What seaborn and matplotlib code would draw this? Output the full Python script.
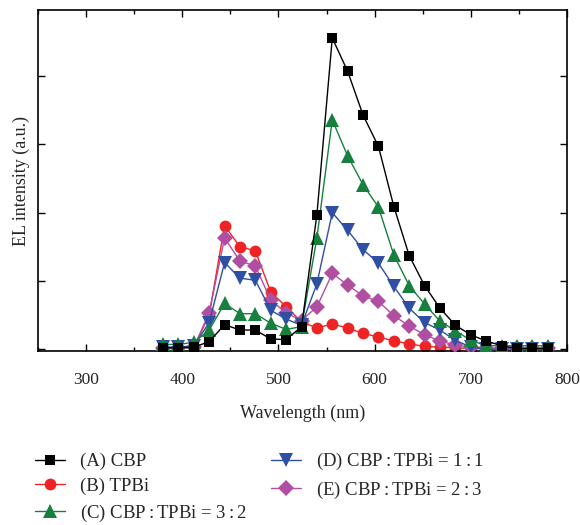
import numpy as np
import pandas as pd
import matplotlib
matplotlib.use("Agg")
import matplotlib.pyplot as plt
from matplotlib.ticker import MultipleLocator, NullFormatter
import seaborn as sns

# Datos (intensidad en unidades arbitrarias)
wavelength = [380, 396, 412, 428, 444, 460, 476, 492, 508, 524, 540, 556, 572,
              588, 604, 620, 636, 652, 668, 684, 700, 716, 732, 748, 764, 780]

cbp = [0.02, 0.02, 0.03, 0.11, 0.36, 0.28, 0.28, 0.15, 0.14, 0.33, 1.97, 4.56, 4.07,
       3.43, 2.97, 2.09, 1.37, 0.93, 0.60, 0.35, 0.21, 0.12, 0.05, 0.01, 0.01, 0.01]
tpbi = [0.01, 0.01, 0.03, 0.50, 1.81, 1.50, 1.44, 0.84, 0.62, 0.40, 0.31, 0.37, 0.31,
        0.23, 0.18, 0.12, 0.08, 0.04, 0.03, 0.02, 0.01, 0.01, 0.01, 0.01, 0.01, 0.01]
cbp_tpbi_32 = [0.07, 0.07, 0.10, 0.28, 0.67, 0.52, 0.52, 0.38, 0.29, 0.33, 1.63, 3.36, 2.83,
               2.41, 2.08, 1.38, 0.93, 0.66, 0.41, 0.27, 0.13, 0.05, 0.05, 0.05, 0.05, 0.05]
cbp_tpbi_11 = [0.03, 0.03, 0.05, 0.39, 1.27, 1.04, 1.01, 0.57, 0.44, 0.35, 0.96, 2.00, 1.74,
               1.46, 1.26, 0.92, 0.60, 0.39, 0.28, 0.13, 0.03, 0.00, 0.00, 0.00, 0.00, 0.00]
cbp_tpbi_23 = [0.02, 0.02, 0.03, 0.53, 1.63, 1.29, 1.22, 0.72, 0.53, 0.42, 0.62, 1.11, 0.94,
               0.78, 0.70, 0.49, 0.34, 0.21, 0.12, 0.06, 0.03, 0.01, 0.01, 0.01, 0.01, 0.01]

labels = ["(A) CBP", "(B) TPBi", "(C) CBP$\\,$:$\\,$TPBi = 3$\\,$:$\\,$2",
          "(D) CBP$\\,$:$\\,$TPBi = 1$\\,$:$\\,$1", "(E) CBP$\\,$:$\\,$TPBi = 2$\\,$:$\\,$3"]
series = [cbp, tpbi, cbp_tpbi_32, cbp_tpbi_11, cbp_tpbi_23]
colores = ["#000000", "#ee2424", "#17803f", "#2e4fa3", "#b04fa2"]
marcadores = ["s", "o", "^", "v", "D"]
tamanos = [7.5, 8.5, 9.5, 9.5, 8.5]
zorders = [6, 2, 5, 4, 3]

sns.set_style("white")
plt.rcParams["font.family"] = ["Liberation Serif", "DejaVu Serif"]
plt.rcParams["mathtext.fontset"] = "custom"
plt.rcParams["mathtext.rm"] = "Liberation Serif"

fig = plt.figure(figsize=(5.8, 5.25), dpi=100)
ax = fig.add_axes([0.0655, 0.331, 0.912, 0.650])

for lab, ys, c, m, s, z in zip(labels, series, colores, marcadores, tamanos, zorders):
    df = pd.DataFrame({"Wavelength": wavelength, "I": ys})
    sns.lineplot(data=df, x="Wavelength", y="I", ax=ax, color=c, marker=m,
                 markersize=s, markeredgewidth=0, linewidth=1.0, label=lab,
                 zorder=z, sort=False)

ax.set_xlim(250, 800)
ax.set_ylim(-0.03, 4.97)
ax.xaxis.set_major_locator(MultipleLocator(100))
ax.xaxis.set_minor_locator(MultipleLocator(50))
ax.yaxis.set_major_locator(MultipleLocator(1))
ax.yaxis.set_major_formatter(NullFormatter())
ax.tick_params(axis="both", which="both", direction="in", top=True, right=True,
               left=True, bottom=True, color="black", width=1)
ax.tick_params(which="major", length=5)
ax.tick_params(which="minor", length=3)
ax.tick_params(axis="x", labelsize=12.5, pad=15)
for sp in ax.spines.values():
    sp.set_color("black")
    sp.set_linewidth(1.2)

ax.set_xlabel("Wavelength (nm)", fontsize=13, labelpad=12)
ax.set_ylabel("EL intensity (a.u.)", fontsize=13, labelpad=2)

handles, leg_labels = ax.get_legend_handles_labels()
ax.get_legend().remove()
fig.legend(handles, leg_labels, loc="upper left", bbox_to_anchor=(0.047, 0.155),
           ncol=2, frameon=False, fontsize=13.5, handlelength=1.6,
           columnspacing=1.3, labelspacing=0.4, handletextpad=0.8,
           borderaxespad=0)

fig.savefig("out.png", dpi=100)
